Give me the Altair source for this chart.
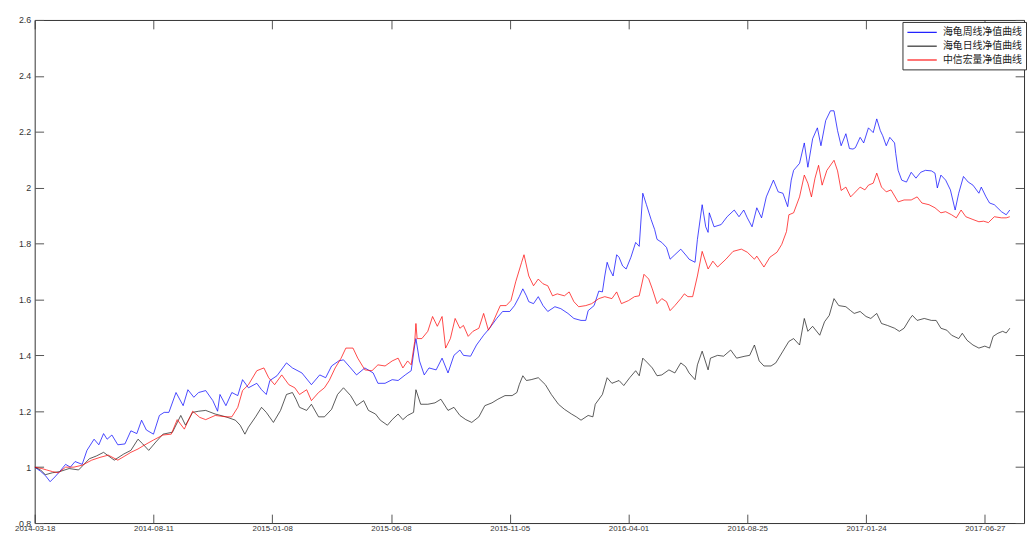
import json
import altair as alt
import pandas as pd

# ---------------- data ----------------
date_labels = ["2014-03-18", "2014-08-11", "2015-01-08", "2015-06-08", "2015-11-05",
               "2016-04-01", "2016-08-25", "2017-01-24", "2017-06-27"]
x_ticks = [0, 100, 200, 300, 400, 500, 600, 700, 800]
y_ticks = [0.8, 1.0, 1.2, 1.4, 1.6, 1.8, 2.0, 2.2, 2.4, 2.6]

series_names = ["海龟周线净值曲线", "海龟日线净值曲线", "中信宏量净值曲线"]
series_colors = ["#0000ff", "#1a1a1a", "#ff0000"]

# 海龟周线净值曲线 (blue): trading-day index, net value
weekly_idx = [0, 5, 9, 13, 17, 21, 26, 30, 34, 40, 44, 50, 54, 58, 61, 65, 70, 76, 81, 86, 90, 94,
              100, 105, 109, 113, 119, 125, 129, 134, 138, 144, 150, 154, 156, 161, 166, 171, 175,
              180, 187, 191, 195, 198, 204, 212, 217, 225, 233, 240, 245, 250, 256, 260, 266, 271,
              278, 285, 289, 295, 301, 306, 312, 317, 320, 321, 324, 328, 332, 338, 343, 348, 353,
              358, 361, 367, 372, 378, 383, 389, 394, 400, 404, 408, 411, 414, 416, 420, 424, 428,
              432, 438, 443, 449, 454, 460, 464, 466, 471, 475, 478, 480, 482, 484, 487, 490, 492,
              495, 498, 502, 506, 509, 512, 515, 519, 522, 524, 528, 532, 535, 539, 544, 549, 551,
              556, 558, 562, 565, 567, 568, 572, 578, 583, 589, 593, 597, 600, 604, 608, 612, 616,
              622, 626, 630, 634, 637, 639, 644, 648, 651, 655, 659, 662, 666, 670, 673, 676, 679,
              683, 686, 689, 691, 695, 698, 702, 706, 709, 712, 714, 717, 720, 724, 725, 727, 730,
              734, 738, 742, 746, 750, 755, 758, 760, 763, 767, 771, 775, 778, 782, 786, 790, 795,
              797, 801, 804, 808, 814, 818, 821]
weekly_val = [1.0, 0.985, 0.97, 0.948, 0.965, 0.984, 1.01, 1.0, 1.02, 1.01, 1.06, 1.10, 1.08, 1.12,
              1.10, 1.115, 1.08, 1.083, 1.13, 1.12, 1.168, 1.133, 1.118, 1.185, 1.196, 1.196, 1.267,
              1.22, 1.277, 1.25, 1.267, 1.274, 1.238, 1.2, 1.26, 1.22, 1.267, 1.256, 1.313, 1.284,
              1.30, 1.277, 1.26, 1.31, 1.327, 1.373, 1.355, 1.337, 1.295, 1.33, 1.32, 1.362, 1.38,
              1.384, 1.355, 1.33, 1.355, 1.337, 1.30, 1.30, 1.313, 1.31, 1.33, 1.345, 1.437, 1.46,
              1.38, 1.33, 1.355, 1.348, 1.39, 1.337, 1.40, 1.419, 1.40, 1.397, 1.437, 1.472, 1.497,
              1.532, 1.557, 1.557, 1.578, 1.61, 1.638, 1.613, 1.592, 1.585, 1.61, 1.578, 1.557,
              1.574, 1.567, 1.55, 1.532, 1.525, 1.525, 1.56, 1.578, 1.63, 1.627, 1.684, 1.733,
              1.709, 1.684, 1.76, 1.751, 1.72, 1.709, 1.751, 1.804, 1.79, 1.98, 1.94, 1.886, 1.85,
              1.815, 1.804, 1.786, 1.744, 1.76, 1.78, 1.755, 1.744, 1.733, 1.815, 1.939, 1.86, 1.84,
              1.91, 1.86, 1.868, 1.896, 1.92, 1.896, 1.92, 1.892, 1.86, 1.928, 1.892, 1.967, 2.027,
              1.985, 1.98, 1.932, 2.027, 2.062, 2.087, 2.16, 2.073, 2.175, 2.214, 2.15, 2.24, 2.275,
              2.275, 2.204, 2.15, 2.193, 2.14, 2.138, 2.143, 2.18, 2.16, 2.214, 2.197, 2.246, 2.204,
              2.186, 2.15, 2.18, 2.16, 2.122, 2.062, 2.027, 2.02, 2.055, 2.034, 2.055, 2.062, 2.06,
              2.052, 1.999, 2.045, 2.027, 1.992, 1.92, 1.98, 2.04, 2.02, 2.009, 1.98, 2.002, 1.967,
              1.945, 1.939, 1.914, 1.903, 1.92]

# 海龟日线净值曲线 (black)
daily_idx = [0, 5, 9, 15, 21, 29, 37, 46, 52, 58, 67, 75, 81, 87, 91, 96, 102, 108, 116, 123, 127,
             133, 138, 144, 152, 161, 169, 173, 177, 180, 186, 191, 195, 201, 207, 212, 217, 220,
             223, 229, 233, 239, 244, 250, 255, 260, 266, 271, 277, 281, 287, 291, 297, 301, 306,
             310, 314, 319, 321, 325, 331, 337, 342, 348, 353, 358, 363, 368, 374, 379, 385, 390,
             396, 402, 406, 408, 411, 414, 418, 424, 430, 435, 441, 446, 452, 456, 460, 466, 470,
             472, 478, 482, 486, 492, 496, 501, 506, 509, 512, 516, 520, 524, 528, 534, 539, 544,
             548, 551, 556, 558, 562, 567, 569, 575, 580, 586, 591, 598, 602, 606, 610, 614, 620,
             624, 630, 635, 639, 644, 648, 651, 655, 661, 665, 669, 673, 677, 683, 687, 690, 695,
             700, 704, 709, 713, 718, 724, 728, 732, 737, 739, 743, 749, 755, 759, 763, 768, 772,
             778, 781, 785, 790, 795, 800, 804, 807, 811, 815, 818, 821]
daily_val = [1.0, 0.99, 0.973, 0.98, 0.984, 0.995, 0.99, 1.03, 1.04, 1.053, 1.025, 1.047, 1.06,
             1.10, 1.083, 1.06, 1.09, 1.118, 1.125, 1.185, 1.15, 1.196, 1.2, 1.203, 1.19, 1.18,
             1.168, 1.15, 1.118, 1.143, 1.18, 1.214, 1.196, 1.16, 1.203, 1.26, 1.267, 1.243, 1.214,
             1.203, 1.225, 1.18, 1.18, 1.207, 1.26, 1.284, 1.256, 1.22, 1.238, 1.203, 1.19, 1.168,
             1.15, 1.17, 1.19, 1.17, 1.185, 1.196, 1.277, 1.225, 1.225, 1.23, 1.243, 1.203, 1.214,
             1.185, 1.17, 1.16, 1.18, 1.22, 1.23, 1.243, 1.256, 1.256, 1.267, 1.295, 1.327, 1.31,
             1.313, 1.32, 1.295, 1.26, 1.225, 1.207, 1.19, 1.18, 1.168, 1.185, 1.18, 1.225, 1.26,
             1.32, 1.30, 1.31, 1.292, 1.32, 1.345, 1.327, 1.39, 1.373, 1.355, 1.327, 1.33, 1.348,
             1.337, 1.373, 1.36, 1.337, 1.313, 1.366, 1.415, 1.348, 1.39, 1.40, 1.397, 1.419, 1.39,
             1.397, 1.40, 1.437, 1.38, 1.362, 1.362, 1.373, 1.415, 1.45, 1.46, 1.437, 1.532, 1.486,
             1.504, 1.472, 1.52, 1.543, 1.603, 1.578, 1.574, 1.56, 1.55, 1.557, 1.539, 1.532, 1.55,
             1.514, 1.507, 1.497, 1.486, 1.497, 1.532, 1.543, 1.525, 1.532, 1.525, 1.525, 1.497,
             1.49, 1.472, 1.46, 1.479, 1.454, 1.437, 1.426, 1.433, 1.426, 1.468, 1.479, 1.486,
             1.48, 1.497]

# 中信宏量净值曲线 (red)
citic_idx = [0, 6, 10, 15, 20, 26, 33, 40, 48, 55, 62, 70, 76, 81, 87, 92, 100, 108, 115, 120, 126,
             133, 139, 144, 152, 161, 166, 171, 175, 180, 187, 193, 197, 202, 208, 214, 219, 223,
             229, 233, 239, 244, 248, 253, 258, 262, 268, 272, 278, 284, 289, 295, 301, 306, 310,
             314, 317, 320, 321, 322, 326, 331, 335, 339, 343, 346, 350, 354, 358, 361, 365, 369,
             374, 378, 382, 386, 392, 397, 401, 405, 410, 412, 416, 420, 424, 428, 432, 436, 440,
             446, 450, 454, 458, 464, 469, 475, 480, 486, 490, 494, 500, 505, 509, 513, 517, 520,
             524, 528, 532, 535, 539, 544, 547, 550, 554, 558, 562, 567, 571, 575, 582, 588, 595,
             600, 606, 608, 614, 619, 625, 629, 633, 635, 639, 644, 648, 651, 654, 657, 660, 663,
             667, 673, 676, 679, 683, 687, 690, 695, 699, 702, 706, 709, 713, 717, 721, 727, 732,
             738, 743, 747, 753, 758, 763, 767, 772, 776, 780, 784, 790, 795, 799, 803, 808, 814,
             818, 821]
citic_val = [1.0, 0.995, 0.99, 0.984, 0.98, 1.0, 1.0, 1.007, 1.025, 1.035, 1.043, 1.025, 1.04,
             1.053, 1.065, 1.078, 1.097, 1.115, 1.118, 1.17, 1.136, 1.2, 1.178, 1.17, 1.185, 1.18,
             1.18, 1.214, 1.274, 1.295, 1.345, 1.355, 1.32, 1.295, 1.33, 1.295, 1.284, 1.26, 1.277,
             1.238, 1.267, 1.284, 1.31, 1.355, 1.39, 1.426, 1.426, 1.39, 1.348, 1.345, 1.366,
             1.362, 1.38, 1.39, 1.355, 1.38, 1.366, 1.45, 1.514, 1.46, 1.46, 1.486, 1.539, 1.504,
             1.539, 1.426, 1.46, 1.532, 1.497, 1.507, 1.468, 1.486, 1.497, 1.55, 1.49, 1.52, 1.578,
             1.578, 1.596, 1.663, 1.733, 1.76, 1.684, 1.649, 1.673, 1.656, 1.649, 1.613, 1.62,
             1.613, 1.627, 1.592, 1.574, 1.578, 1.585, 1.603, 1.61, 1.603, 1.627, 1.585, 1.596,
             1.61, 1.613, 1.69, 1.673, 1.638, 1.585, 1.603, 1.592, 1.56, 1.578, 1.603, 1.62, 1.61,
             1.61, 1.684, 1.772, 1.709, 1.737, 1.716, 1.744, 1.772, 1.78, 1.769, 1.744, 1.755,
             1.716, 1.751, 1.769, 1.797, 1.843, 1.903, 1.91, 1.967, 2.045, 2.016, 1.967, 2.034,
             2.08, 2.009, 2.062, 2.098, 2.06, 1.99, 2.002, 1.967, 1.98, 2.002, 1.992, 2.009, 2.016,
             2.052, 2.002, 1.985, 1.992, 1.949, 1.956, 1.956, 1.967, 1.945, 1.939, 1.928, 1.91,
             1.914, 1.903, 1.892, 1.92, 1.896, 1.886, 1.878, 1.88, 1.875, 1.896, 1.892, 1.892,
             1.896]

# ---------------- table ----------------
rows = []
for name, xs, ys in zip(series_names,
                        [weekly_idx, daily_idx, citic_idx],
                        [weekly_val, daily_val, citic_val]):
    for i, v in zip(xs, ys):
        rows.append({"idx": i, "value": v, "series": name})
df = pd.DataFrame(rows)

W, H = 1001, 509
AX_FONT = "Liberation Sans"
x_scale = alt.Scale(domain=[0, 833], nice=False, zero=False)
y_scale = alt.Scale(domain=[0.8, 2.6], nice=False, zero=False)
x_label_expr = json.dumps(date_labels) + "[round(datum.value / 100)]"

base = alt.Chart(df)

lines = base.mark_line(strokeWidth=0.9, strokeOpacity=0.8, clip=True).encode(
    x=alt.X("idx:Q", scale=x_scale,
            axis=alt.Axis(values=x_ticks, labelExpr=x_label_expr, ticks=False, domain=True,
                          domainColor="#333333", title=None, grid=False, labelFont=AX_FONT,
                          labelFontSize=8, labelColor="#333333", labelPadding=2,
                          labelOverlap=False, labelFlush=False)),
    y=alt.Y("value:Q", scale=y_scale,
            axis=alt.Axis(values=y_ticks, labelExpr="format(datum.value, '.1~f')", ticks=False,
                          domain=True, domainColor="#333333", title=None, grid=False,
                          labelFont=AX_FONT, labelFontSize=9, labelColor="#333333",
                          labelPadding=4)),
    color=alt.Color("series:N", scale=alt.Scale(domain=series_names, range=series_colors),
                    legend=alt.Legend(title=None, orient="none", legendX=878, legendY=2,
                                      symbolType="M-1,0H4.4", symbolSize=121,
                                      symbolStrokeWidth=1.1, symbolOpacity=1,
                                      labelFont="Noto Sans CJK SC",
                                      labelFontSize=10, labelColor="#222222",
                                      strokeColor="#333333", fillColor="white",
                                      padding=4, rowPadding=2, labelOffset=24,
                                      offset=0)),
)

# inward ticks at bottom and left edges
ticks_in = base.mark_line(opacity=0).encode(
    x=alt.X("idx:Q", scale=x_scale,
            axis=alt.Axis(orient="top", offset=-H, values=x_ticks, labels=False, domain=False,
                          ticks=True, tickSize=9, tickColor="#555555", title=None, grid=False)),
    y=alt.Y("value:Q", scale=y_scale,
            axis=alt.Axis(orient="right", offset=-W, values=y_ticks, labels=False, domain=False,
                          ticks=True, tickSize=9, tickColor="#555555", title=None, grid=False)),
    detail="series:N",
)

# top and right border with inward ticks
box = base.mark_line(opacity=0).encode(
    x=alt.X("idx:Q", scale=x_scale,
            axis=alt.Axis(orient="bottom", offset=-H, values=x_ticks, labels=False, domain=True,
                          domainColor="#333333", ticks=True, tickSize=9, tickColor="#555555",
                          title=None, grid=False)),
    y=alt.Y("value:Q", scale=y_scale,
            axis=alt.Axis(orient="left", offset=-W, values=y_ticks, labels=False, domain=True,
                          domainColor="#333333", ticks=True, tickSize=9, tickColor="#555555",
                          title=None, grid=False)),
    detail="series:N",
)

chart = alt.layer(lines, ticks_in, box).resolve_axis(
    x="independent", y="independent"
).properties(
    width=W, height=H, padding={"left": 6, "top": 5, "right": 0, "bottom": 0},
    background="white",
).configure_view(stroke=None)

chart.save("out.html", embed_options={"renderer": "svg", "actions": False})
